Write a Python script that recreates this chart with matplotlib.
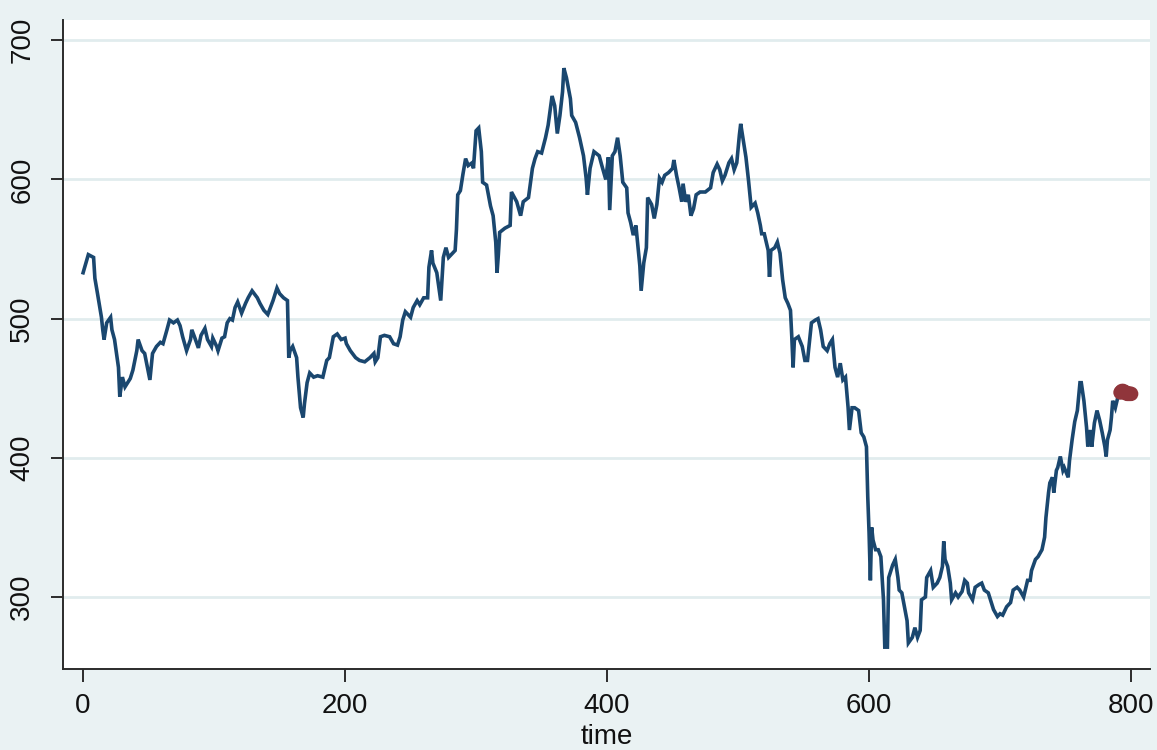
import matplotlib
matplotlib.use("Agg")
import matplotlib.pyplot as plt

plt.rcParams['font.family'] = ['Liberation Sans', 'DejaVu Sans']

# observed series (time, value)
time = [0, 4, 8, 9, 11, 14, 15, 16, 18, 21, 22, 24, 27, 28, 30, 32, 36, 38, 41, 42, 45, 47, 50, 51, 53, 56, 59, 61,
        64, 66, 69, 72, 74, 76, 79, 82, 83, 85, 88, 90, 93, 95, 98, 99, 102,
        103, 106, 108, 110, 112, 114, 116, 118, 121, 124, 126, 129, 133, 135, 138, 141, 143, 145, 148, 150, 153, 156,
        157, 158, 160, 163, 164, 166, 168, 169, 171, 173, 176, 179, 183, 186, 188, 191, 194, 197, 200,
        201, 204, 208, 211, 215, 219, 222, 223, 225, 227, 230, 234, 237, 240, 242, 244, 246, 250, 252, 255, 257, 260,
        263, 264, 266, 267, 270, 272, 273, 275, 277, 279, 282, 284, 285, 286, 288, 290, 292, 294, 297, 298, 300, 302,
        304, 305, 308, 311, 313, 315, 316, 317, 318, 322, 326, 327, 331, 334, 336, 340, 343, 345, 347, 350, 353, 355,
        358, 360, 362, 364, 366, 367, 369, 372, 373, 376, 379, 382, 384, 385, 387, 390, 394, 396, 399, 401, 402, 404,
        406, 408, 410, 412, 415, 416, 418, 420, 422, 424, 425, 426, 428, 430, 431, 434, 436, 438, 440, 442, 444, 447,
        450, 451, 453, 455, 457, 458, 460, 462, 464, 466, 468, 471, 475, 479, 481, 484, 486, 488, 490, 493, 495, 497,
        499, 501, 502,
        504, 506, 508, 510, 513, 515, 517, 518, 520, 523, 524, 525, 528, 530, 532, 534, 536, 538, 540, 541, 542, 543,
        546, 549, 551, 553, 556, 559, 561, 563, 565, 568, 570, 572, 574, 576, 578, 580, 582, 584, 585, 587, 589, 592,
        594, 596, 598,
        599, 600, 601, 602, 603, 605, 607, 609, 611, 612, 614, 615, 618, 620, 622, 623, 625, 627, 629, 630, 633, 635,
        637, 639, 640, 643, 644, 647, 649, 652, 654, 656, 657, 658, 660, 662, 663, 666, 668, 671, 673, 675, 676, 679,
        681, 684, 686, 688, 691, 692, 695, 698, 700, 702,
        705, 708, 710, 713, 715, 718, 721, 723, 724, 727, 729, 732, 734, 735, 737, 738, 740, 741, 743, 744, 746, 748,
        749, 752, 753, 755, 757, 759, 761, 762, 764, 766, 767, 769, 770, 772, 774, 776, 778, 780, 781, 782, 784, 785,
        786, 788, 790, 791]
value = [533, 546, 544, 529, 518, 501, 492, 485, 497, 501, 492, 485, 465, 444, 458, 451, 457, 463, 477, 485, 477, 475,
         461, 456, 475, 480, 483, 482, 492, 499, 497, 499, 495, 487, 477, 485, 492, 487, 479, 488, 493, 485, 480, 486,
         480,
         477, 486, 487, 497, 500, 499, 508, 512, 504, 511, 515, 520, 515, 511, 506, 503, 508, 513, 522, 518, 515, 513,
         472, 477, 480, 472, 458, 436, 429, 439, 454, 461, 458, 459, 458, 470, 472, 487, 489, 485, 486,
         482, 477, 472, 470, 469, 472, 475, 469, 472, 487, 488, 487, 482, 481, 487, 499, 505, 501, 508, 513, 510, 515,
         515, 537, 549, 540, 533, 520, 513, 544, 551, 544, 547, 549, 564, 589, 592, 604, 615, 610, 612, 608, 635, 637,
         620, 598, 596, 581, 574, 555, 533, 546, 562, 565, 567, 591, 584, 574, 584, 587, 608, 615, 620, 619, 630, 639,
         660, 653, 633, 646, 663, 680, 673, 658, 646, 641, 630, 617, 601, 589, 608, 620, 617, 610, 600, 616, 578, 617,
         620, 630, 617, 598, 594, 576, 569, 560, 567, 548, 538, 520, 540, 551, 587, 582, 572, 582, 601, 598, 603, 605,
         608, 614, 603, 594, 584, 597, 584, 589, 574, 579, 589, 591, 591, 594, 605, 611, 607, 599, 603, 612, 615, 607,
         612, 632, 640,
         628, 616, 599, 580, 583, 576, 567, 561, 561, 549, 530, 549, 551, 555, 547, 528, 515, 511, 506, 487, 465, 485,
         487, 480, 470, 470, 497, 499, 500, 492, 480, 477, 482, 485, 465, 458, 468, 456, 458, 436, 420, 436, 436, 434,
         418, 415, 408,
         372, 346, 312, 350, 341, 334, 334, 329, 298, 264, 264, 314, 323, 327, 314, 305, 303, 293, 283, 267, 271, 278,
         271, 276, 298, 300, 314, 319, 307, 310, 314, 322, 340, 327, 322, 310, 298, 303, 300, 304, 312, 310, 303, 298,
         307, 309, 310, 305, 303, 300, 291, 286, 288, 287,
         293, 296, 305, 307, 305, 300, 312, 312, 319, 327, 329, 334, 343, 357, 375, 382, 386, 375, 391, 393, 401, 391,
         393, 386, 398, 413, 426, 434, 454, 454, 441, 422, 408, 420, 408, 425, 434, 427, 418, 408, 401, 413, 420, 429,
         441, 436, 444, 446]

# highlighted (forecast) points
time_fc = [792, 793, 794, 795, 796, 797, 798, 799, 800]
value_fc = [447, 448, 448, 447, 447, 446, 446, 446, 446]

xticks = [0, 200, 400, 600, 800]
yticks = [300, 400, 500, 600, 700]

BG = '#EAF2F3'
GRID = '#E1ECEE'
NAVY = '#1A476F'
MAROON = '#90353B'
AX = '#2b2b2b'

fig = plt.figure(figsize=(11.57, 7.5), dpi=100, facecolor=BG)
ax = fig.add_axes([0.0545, 0.108, 0.9395, 0.865])
ax.set_facecolor('white')

ax.plot(time, value, color=NAVY, lw=2.6, solid_joinstyle='miter', zorder=3)
ax.scatter(time_fc, value_fc, s=110, color=MAROON, zorder=4, edgecolors='none')

ax.set_xlim(-15.3, 814.5)
ax.set_ylim(248.3, 714.4)
ax.set_xticks(xticks)
ax.set_yticks(yticks)
ax.set_yticklabels([str(v) for v in yticks], rotation=90, va='center')

for y in yticks:
    ax.axhline(y, color=GRID, lw=2.0, zorder=1)

for s in ['top', 'right']:
    ax.spines[s].set_visible(False)
for s in ['left', 'bottom']:
    ax.spines[s].set_color(AX)
    ax.spines[s].set_linewidth(1.4)

ax.tick_params(axis='both', direction='out', length=9, width=1.4, color=AX,
               labelsize=20, labelcolor='#111111')
ax.tick_params(axis='x', pad=8)
ax.tick_params(axis='y', pad=11)

ax.set_xlabel('time', fontsize=20, color='#111111', labelpad=4)

fig.savefig('out.png', dpi=100, facecolor=BG)
